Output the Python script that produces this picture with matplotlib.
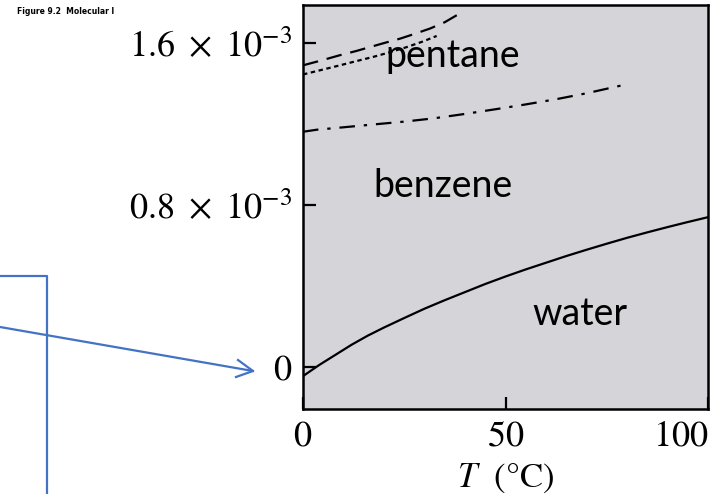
import matplotlib
matplotlib.use("Agg")
import matplotlib.pyplot as plt
from matplotlib.lines import Line2D

# ---- data, values in units of 1e-3 per K ----
water_T = [0, 4, 8, 12, 16, 20, 25, 30, 35, 40, 45, 50, 55, 60, 65, 70, 75, 80, 85, 90, 95, 100]
water_a = [-0.045, 0.01, 0.06, 0.11, 0.155, 0.195, 0.242, 0.288, 0.33, 0.37, 0.41, 0.447,
           0.482, 0.515, 0.548, 0.579, 0.609, 0.638, 0.665, 0.691, 0.716, 0.74]

benzene_T = [0, 3.4, 10, 17.4, 25, 32.2, 40, 47.8, 55, 62.6, 70, 80.3]
benzene_a = [1.162, 1.172, 1.184, 1.198, 1.212, 1.228, 1.25, 1.274, 1.297, 1.323, 1.352, 1.398]

pentane_T = [0, 4.5, 9.1, 13, 17.4, 21.5, 25.6, 29.5, 33.0]
pentane_a = [1.445, 1.467, 1.49, 1.51, 1.532, 1.555, 1.58, 1.607, 1.635]

upper_T = [0, 4.5, 9.1, 13, 16.5, 20, 24.0, 27.5, 31.4, 35, 38.0]
upper_a = [1.49, 1.514, 1.54, 1.56, 1.58, 1.6, 1.622, 1.645, 1.672, 1.703, 1.738]

yticks = [0, 0.8, 1.6]
ytick_labels = [r"$0$", r"$0.8\ \times\ 10^{-3}$", r"$1.6\ \times\ 10^{-3}$"]
xticks = [0, 50, 100]
xtick_labels = [r"$0$", r"$50$", r"$100$"]

plt.rcParams['mathtext.fontset'] = 'stix'
plt.rcParams['font.family'] = 'STIXGeneral'

W, H = 724, 494
fig = plt.figure(figsize=(W / 100, H / 100), dpi=100)
ax = fig.add_axes([303 / W, (494 - 409) / H, (708 - 303) / W, (409 - 5) / H])
ax.set_facecolor('#d4d4d9')

lw = 1.6
ax.plot(water_T, water_a, color='black', lw=lw)
ax.plot(benzene_T, benzene_a, color='black', lw=lw, dashes=(7, 4, 1.5, 4))
ax.plot(pentane_T, pentane_a, color='black', lw=lw, dashes=(2, 1.6))
ax.plot(upper_T, upper_a, color='black', lw=lw, dashes=(7, 4))

ax.set_xlim(0, 100)
ax.set_ylim(-0.2074, 1.788)

ax.set_yticks(yticks)
ax.set_yticklabels(ytick_labels, fontsize=26)
ax.set_xticks(xticks)
ax.set_xticklabels(xtick_labels, fontsize=26)
ax.get_xticklabels()[-1].set_horizontalalignment('right')
ax.tick_params(direction='in', length=9, width=1.6, pad=8, colors='black')
for s in ax.spines.values():
    s.set_linewidth(1.8)
ax.set_xlabel(r"$T$  (°C)", fontsize=25, labelpad=6)

sans = ['Lato', 'DejaVu Sans']
ax.text((453 - 303) / 4.05, (367 - 67) / 202.5, 'pentane', fontsize=27, family=sans,
        ha='center', va='baseline')
ax.text((443 - 303) / 4.05, (367 - 197) / 202.5, 'benzene', fontsize=27, family=sans,
        ha='center', va='baseline')
ax.text((580 - 303) / 4.05, (367 - 325) / 202.5, 'water', fontsize=27, family=sans,
        ha='center', va='baseline')

# figure-level annotations
fig.text(17 / W, 1 - 14 / H, 'Figure 9.2  Molecular l', fontsize=5.5, fontweight='bold',
         family=['DejaVu Sans'], ha='left', va='baseline')
blue = '#4472c4'
fig.add_artist(Line2D([0, 47 / W, 47 / W], [1 - 276 / H, 1 - 276 / H, 0],
                      transform=fig.transFigure, color=blue, lw=1.6))
fig.add_artist(Line2D([0, 253 / W], [1 - 327 / H, 1 - 371 / H],
                      transform=fig.transFigure, color=blue, lw=1.6))
fig.add_artist(Line2D([238 / W, 253 / W, 236 / W], [1 - 360 / H, 1 - 371 / H, 1 - 377 / H],
                      transform=fig.transFigure, color=blue, lw=1.6))

fig.savefig('out.png', dpi=100)
